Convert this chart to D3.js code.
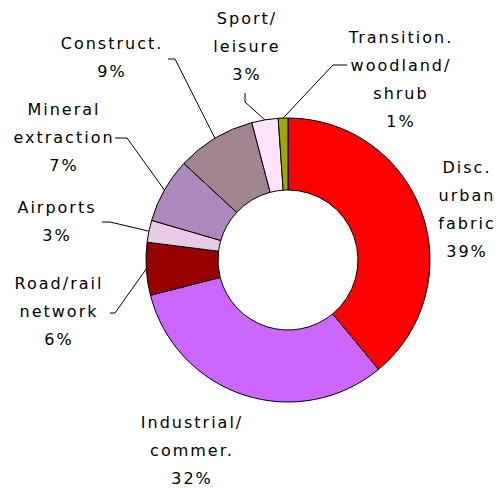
<!DOCTYPE html>
<html>
<head>
<meta charset="utf-8">
<script src="https://cdn.jsdelivr.net/npm/d3@7"></script>
<style>
  body { margin: 0; background: #fff; }
  text { font-family: "DejaVu Sans", Verdana, sans-serif; font-size: 16px; letter-spacing: 2px; fill: #000; }
</style>
</head>
<body>
<div class="donut"></div>
<script>
const categories = [
  ['Disc.', 'urban', 'fabric'],
  ['Industrial/', 'commer.'],
  ['Road/rail', 'network'],
  ['Airports'],
  ['Mineral', 'extraction'],
  ['Construct.'],
  ['Sport/', 'leisure'],
  ['Transition.', 'woodland/', 'shrub']
]
const values = [39, 32, 6, 2.5, 7.4, 9, 3, 1.1]
const colors = ['#ff0000', '#cc66ff', '#990000', '#e8cce6', '#ad88be', '#a08490', '#ffe4ff', '#99aa00']

// label block centre (x, first line y) and elbow of the leader line
const labelAt = [[467, 167], [192, 422], [59, 283], [57, 207], [64, 109], [112, 43], [247, 18], [401, 37]]
const elbows = [null, null, [[110, 313], [115, 313]], [[102, 222], [110, 222]],
  [[115, 138], [127, 138]], [[168, 59], [175, 59]], [[245, 93], [245, 102]], [[347, 65], [333, 65]]]

const width = 502, height = 488
const cx = 288, cy = 260, outer = 142, inner = 70
const lineH = 28

const svg = d3.select('.donut').append('svg').attr('width', width).attr('height', height)
const g = svg.append('g').attr('transform', `translate(${cx},${cy})`)

const pie = d3.pie().sort(null).value(d => d)
const arcs = pie(values)
const arc = d3.arc().innerRadius(inner).outerRadius(outer)
const edge = d3.arc().innerRadius(outer).outerRadius(outer)

g.selectAll('path')
  .data(arcs)
  .enter()
  .append('path')
  .attr('d', arc)
  .attr('fill', (d, i) => colors[i])
  .attr('stroke', '#000')
  .attr('stroke-width', 1)

// leader lines
arcs.forEach((d, i) => {
  if (!elbows[i]) return
  const [ex, ey] = edge.centroid(d)
  const pts = elbows[i].concat([[ex + cx, ey + cy]])
  svg.append('path')
    .attr('d', d3.line()(pts))
    .attr('fill', 'none')
    .attr('stroke', '#000')
    .attr('stroke-width', 1)
})

// labels
arcs.forEach((d, i) => {
  const lines = categories[i].concat([Math.round(values[i]) + '%'])
  const t = svg.append('text')
    .attr('text-anchor', 'middle')
    .attr('dominant-baseline', 'central')
  lines.forEach((l, j) => {
    t.append('tspan')
      .attr('x', labelAt[i][0])
      .attr('y', labelAt[i][1] + j * lineH)
      .text(l)
  })
})
</script>
</body>
</html>
